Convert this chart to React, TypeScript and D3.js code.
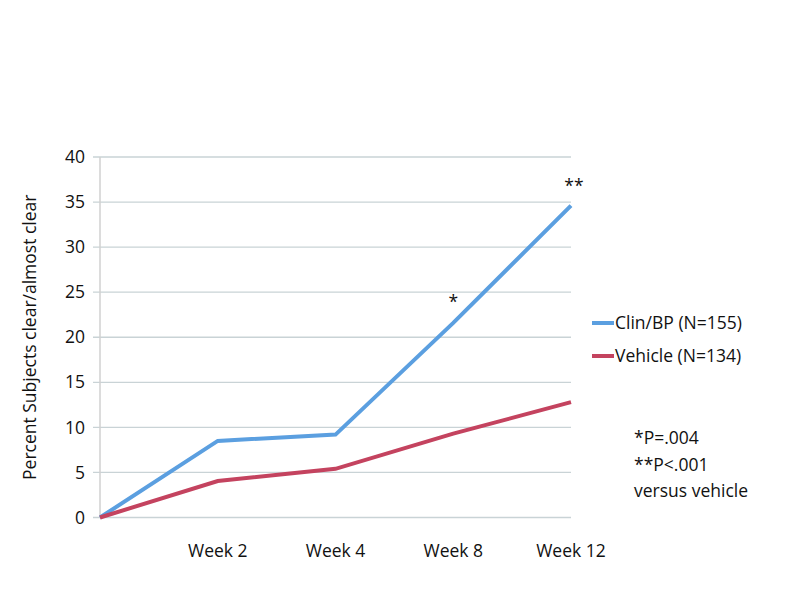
import React from "react";
import * as d3 from "d3";

const categories = ["", "Week 2", "Week 4", "Week 8", "Week 12"];
const clinValues = [0, 8.5, 9.2, 21.6, 34.6];
const vehicleValues = [0, 4.05, 5.4, 9.3, 12.8];
const yTicks = [0, 5, 10, 15, 20, 25, 30, 35, 40];
const seriesNames = ["Clin/BP (N=155)", "Vehicle (N=134)"];
const seriesColors = ["#5b9fe0", "#c4435f"];
const notes = ["*P=.004", "**P<.001", "versus vehicle"];
const starMarks = [
  { idx: 3, text: "*", series: 0 },
  { idx: 4, text: "**", series: 0 },
];

const FONT = "'Open Sans', 'Liberation Sans', sans-serif";
const FS = 17.5;

export default function App() {
  const left = 100, right = 571, top = 157, bottom = 517.5;
  const x = d3.scalePoint<string>().domain(categories.map((c, i) => String(i))).range([left, right]);
  const y = d3.scaleLinear().domain([0, 40]).range([bottom, top]);
  const line = d3
    .line<number>()
    .x((_, i) => x(String(i)) as number)
    .y((d) => y(d));
  const series = [clinValues, vehicleValues];

  return (
    <svg width={800} height={600} style={{ position: "absolute", left: 0, top: 0, background: "#fff" }}>
      {yTicks.map((t) => (
        <g key={t}>
          <line x1={left - 7} x2={right} y1={y(t)} y2={y(t)} stroke="#c9d3d6" strokeWidth={1.3} />
          <text x={85} y={y(t)} dy="0.35em" textAnchor="end" fontFamily={FONT} fontSize={FS} fill="#111">
            {t}
          </text>
        </g>
      ))}
      <line x1={left} x2={left} y1={top} y2={bottom} stroke="#d0d0d0" strokeWidth={1.5} />
      {categories.map((c, i) =>
        c ? (
          <text key={c} x={x(String(i)) as number} y={557} textAnchor="middle" fontFamily={FONT} fontSize={FS} fill="#111">
            {c}
          </text>
        ) : null
      )}
      <text
        transform={`translate(36,${(top + bottom) / 2}) rotate(-90)`}
        textAnchor="middle"
        fontFamily={FONT}
        fontSize={FS}
        fill="#111"
      >
        Percent Subjects clear/almost clear
      </text>
      {series.map((s, k) => (
        <path key={k} d={line(s) as string} fill="none" stroke={seriesColors[k]} strokeWidth={4} strokeLinejoin="miter" />
      ))}
      {starMarks.map((m, i) => (
        <text
          key={i}
          x={(x(String(m.idx)) as number) + (m.idx === 4 ? 3 : 0)}
          y={m.idx === 4 ? 192 : 308}
          textAnchor="middle"
          fontFamily={FONT}
          fontSize={FS}
          fill="#111"
        >
          {m.text}
        </text>
      ))}
      {seriesNames.map((n, k) => (
        <g key={n}>
          <line x1={592} x2={614} y1={323 + k * 33} y2={323 + k * 33} stroke={seriesColors[k]} strokeWidth={4} />
          <text x={615} y={323 + k * 33} dy="0.35em" fontFamily={FONT} fontSize={FS} fill="#111">
            {n}
          </text>
        </g>
      ))}
      {notes.map((n, i) => (
        <text key={n} x={634} y={444 + i * 26.5} fontFamily={FONT} fontSize={FS} fill="#111">
          {n}
        </text>
      ))}
    </svg>
  );
}
